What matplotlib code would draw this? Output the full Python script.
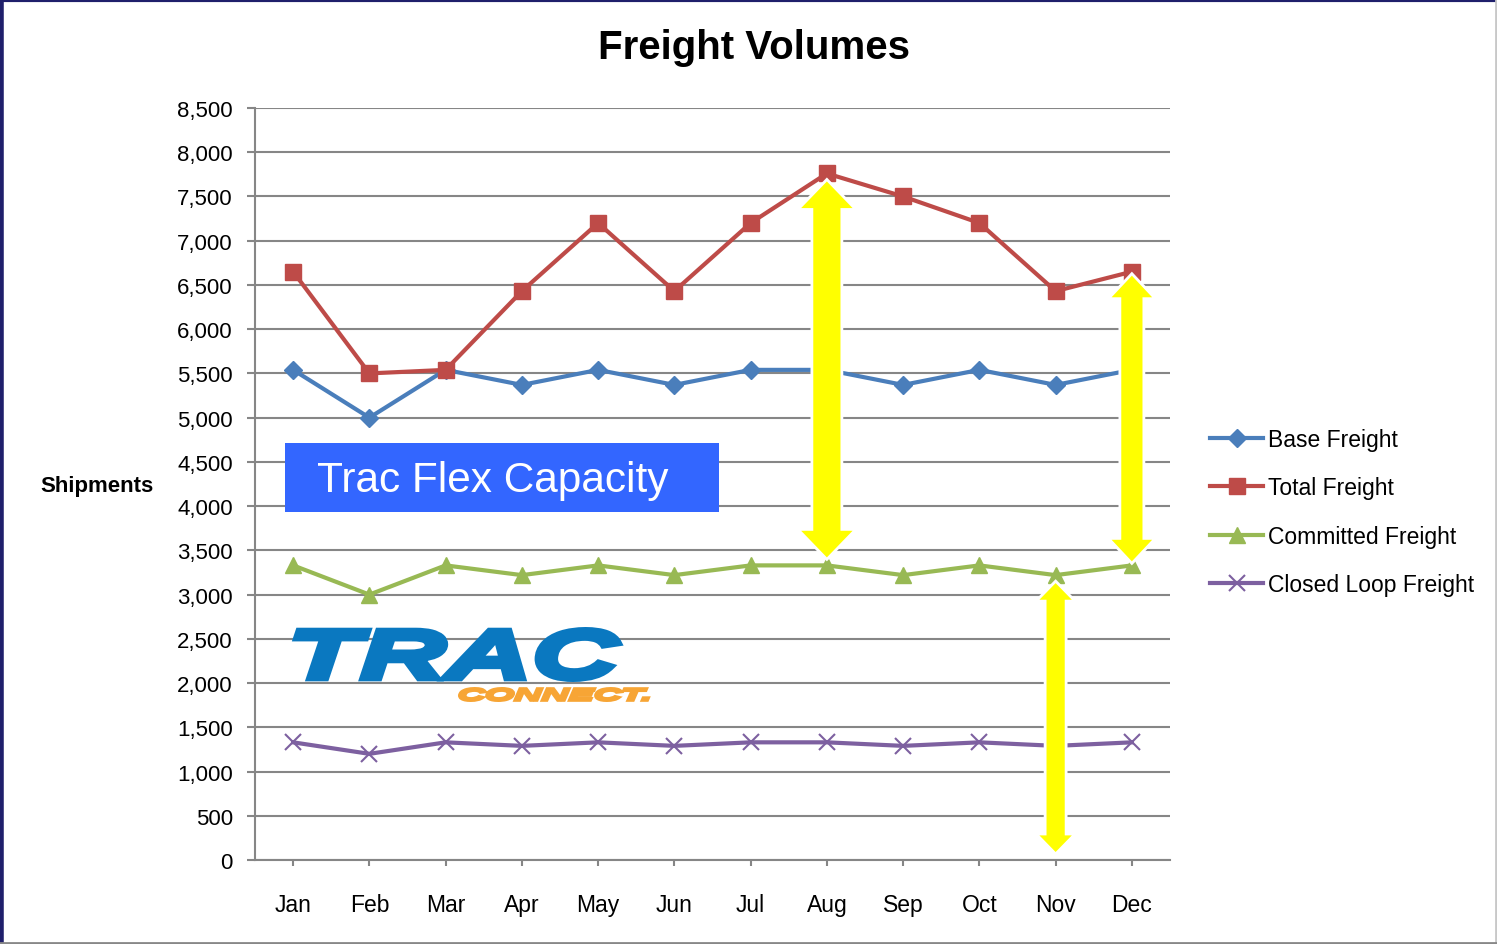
import matplotlib.pyplot as plt
from matplotlib.font_manager import FontProperties
from matplotlib.lines import Line2D
from matplotlib.patches import PathPatch, Polygon, Rectangle
from matplotlib.textpath import TextPath
from matplotlib.ticker import FuncFormatter, MultipleLocator
from matplotlib.transforms import Affine2D, IdentityTransform

W, H = 1497, 945

months = ["Jan", "Feb", "Mar", "Apr", "May", "Jun",
          "Jul", "Aug", "Sep", "Oct", "Nov", "Dec"]
base_freight = [5540, 5000, 5540, 5370, 5540, 5370, 5540, 5540, 5370, 5540, 5370, 5540]
total_freight = [6650, 5500, 5540, 6430, 7200, 6430, 7200, 7760, 7500, 7200, 6430, 6650]
committed_freight = [3330, 3000, 3330, 3220, 3330, 3220, 3330, 3330, 3220, 3330, 3220, 3330]
closed_loop_freight = [1330, 1200, 1330, 1290, 1330, 1290, 1330, 1330, 1290, 1330, 1290, 1330]

plt.rcParams["font.family"] = ["Liberation Sans", "DejaVu Sans"]

fig = plt.figure(figsize=(W / 100, H / 100), dpi=100)
ax = fig.add_axes([255 / W, 84 / H, 915 / W, 752 / H])

x = range(len(months))
grid_col = "#868686"

ax.plot(x, base_freight, color="#4A7EBB", lw=3, marker="D", ms=9,
        label="Base Freight", zorder=3)
ax.plot(x, total_freight, color="#BE4B48", lw=3, marker="s", ms=11,
        label="Total Freight", zorder=3)
ax.plot(x, committed_freight, color="#98B954", lw=3, marker="^", ms=12,
        label="Committed Freight", zorder=3)
ax.plot(x, closed_loop_freight, color="#7D60A0", lw=3, marker="x", ms=12,
        mew=1.5, label="Closed Loop Freight", zorder=3)

ax.set_xlim(-0.5, len(months) - 0.5)
ax.set_ylim(0, 8500)
ax.yaxis.set_major_locator(MultipleLocator(500))
ax.yaxis.set_major_formatter(FuncFormatter(lambda v, p: f"{int(v):,}"))
ax.set_xticks(list(x))
ax.set_xticklabels(months)
ax.grid(axis="y", color=grid_col, lw=1.5, zorder=0)
ax.set_axisbelow(True)
for side in ["top", "right"]:
    ax.spines[side].set_visible(False)
for side in ["left", "bottom"]:
    ax.spines[side].set_color(grid_col)
    ax.spines[side].set_linewidth(1.5)
ax.tick_params(axis="y", length=6, width=1.5, color=grid_col, pad=10, labelsize=16)
ax.tick_params(axis="x", length=4, width=1.5, color=grid_col, pad=20, labelsize=16.5)

fig.text(754 / W, 1 - 48 / H, "Freight Volumes", fontsize=29, fontweight="bold",
         ha="center", va="center")
fig.text(97 / W, 1 - 487 / H, "Shipments", fontsize=16, fontweight="bold",
         ha="center", va="center")

fig.legend(loc="center left", bbox_to_anchor=(1199 / W, 1 - 513 / H),
           frameon=False, fontsize=16.5, handlelength=2.3, handletextpad=0.2,
           labelspacing=1.1, borderpad=0)


def double_arrow(xi, y_top, y_bot, shaft, head, head_len, inset=4):
    px, top = ax.transData.transform((xi, y_top))
    _, bot = ax.transData.transform((xi, y_bot))
    top -= inset
    bot += inset
    s, h = shaft / 2, head / 2
    verts = [(px, top), (px + h, top - head_len), (px + s, top - head_len),
             (px + s, bot + head_len), (px + h, bot + head_len), (px, bot),
             (px - h, bot + head_len), (px - s, bot + head_len),
             (px - s, top - head_len), (px - h, top - head_len)]
    fig.add_artist(Polygon(verts, closed=True, transform=IdentityTransform(),
                           facecolor="#FFFF00", edgecolor="white", lw=2, zorder=6))


# yellow capacity arrows
double_arrow(7, total_freight[7], committed_freight[7], 30, 58, 30, inset=6)
double_arrow(11, total_freight[11], committed_freight[11], 24, 47, 25, inset=2)
double_arrow(10, committed_freight[10], 0, 21, 39, 20, inset=6)

# "Trac Flex Capacity" box
fig.add_artist(Rectangle((285, H - 513), 434, 69, transform=IdentityTransform(),
                         facecolor="#3366FF", edgecolor="none", zorder=5))
fig.text(493 / W, 1 - 481 / H, "Trac Flex Capacity", color="white",
         fontsize=30.5, ha="center", va="center", zorder=6)


def logo_word(text, box, color, stroke, skew=0):
    fp = FontProperties(family="Liberation Sans", weight="bold", style="italic")
    tp = Affine2D().skew_deg(skew, 0).transform_path(TextPath((0, 0), text, size=100, prop=fp))
    ext = tp.get_extents()
    x0, y0, x1, y1 = box
    s = stroke / 2
    tr = (Affine2D().translate(-ext.x0, -ext.y0)
          .scale((x1 - x0 - stroke) / ext.width, (y1 - y0 - stroke) / ext.height)
          .translate(x0 + s, H - y1 + s))
    fig.add_artist(PathPatch(tr.transform_path(tp), transform=IdentityTransform(),
                             facecolor=color, edgecolor=color, lw=stroke * 0.72,
                             joinstyle="miter", zorder=5))


logo_word("TRAC", (293, 628, 622, 683), "#0A78C0", stroke=6)
logo_word("CONNECT.", (458, 688, 650, 703), "#F7A535", stroke=3)

# slide border
for xs, ys, col, lw in [((0.001, 0.001), (0, 1), "#1F1F6B", 4),
                        ((0, 1), (0.999, 0.999), "#1F1F6B", 3),
                        ((0.999, 0.999), (0, 1), "#C8C8C8", 2),
                        ((0, 1), (0.001, 0.001), "#888888", 2)]:
    fig.add_artist(Line2D(xs, ys, transform=fig.transFigure, color=col, lw=lw, zorder=7))

fig.savefig("out.png", dpi=100)
